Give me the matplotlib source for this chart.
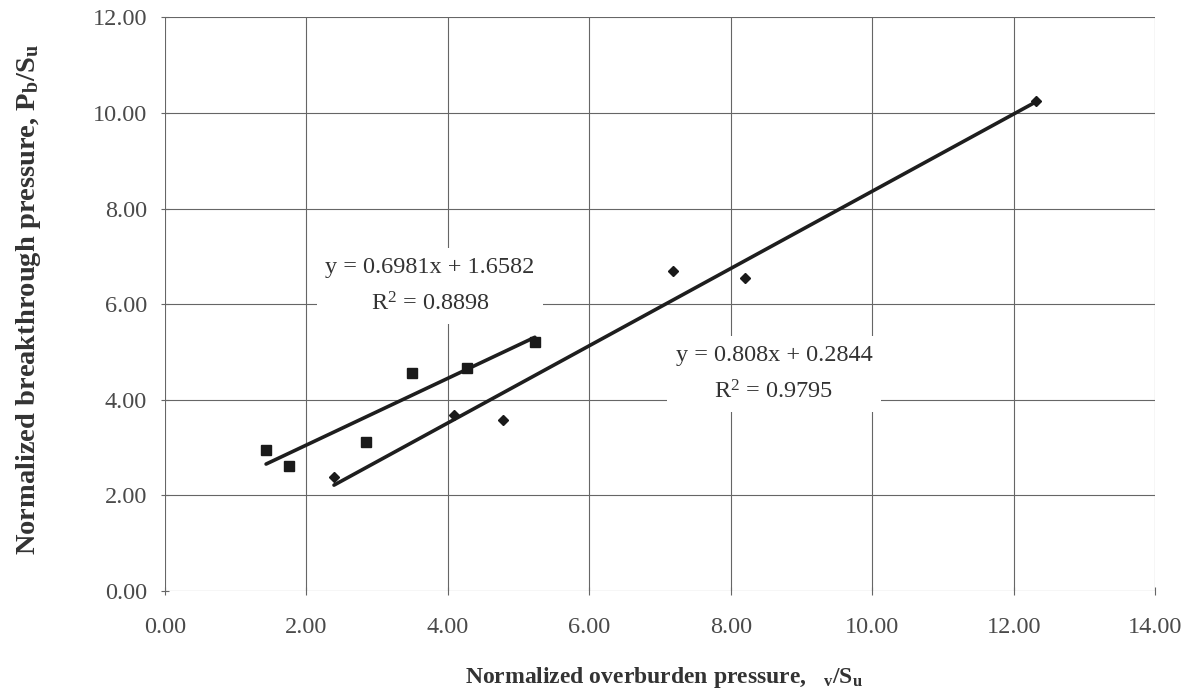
import numpy as np
import matplotlib
matplotlib.use("Agg")
import matplotlib.pyplot as plt

# Normalized overburden (x) and breakthrough (y) pressures
sq_x = [1.43, 1.75, 2.84, 3.49, 4.27, 5.23]
sq_y = [2.95, 2.62, 3.12, 4.56, 4.67, 5.21]
dm_x = [2.39, 4.08, 4.78, 7.18, 8.20, 12.32]
dm_y = [2.38, 3.68, 3.58, 6.69, 6.55, 10.26]

# Linear trend-line coefficients (slope, intercept, R^2)
sq_fit = (0.6981, 1.6582, 0.8898)
dm_fit = (0.808, 0.2844, 0.9795)

x_ticks = [0, 2, 4, 6, 8, 10, 12, 14]
y_ticks = [0, 2, 4, 6, 8, 10, 12]

plt.rcParams['font.family'] = ['Liberation Serif', 'DejaVu Serif']
plt.rcParams['mathtext.fontset'] = 'custom'
plt.rcParams['mathtext.rm'] = 'Liberation Serif'
plt.rcParams['mathtext.bf'] = 'Liberation Serif:bold'
plt.rcParams['mathtext.default'] = 'regular'

text_c = '#333333'
tick_c = '#4a4a4a'
grid_c = '#666666'

fig = plt.figure(figsize=(11.85, 6.94), dpi=100)
ax = fig.add_axes([0.1392, 0.1484, 0.8356, 0.8264])

ax.set_xlim(0, 14)
ax.set_ylim(0, 12)
ax.set_xticks(x_ticks)
ax.set_yticks(y_ticks)
ax.set_xticklabels([f"{v:.2f}" for v in x_ticks])
ax.set_yticklabels([f"{v:.2f}" for v in y_ticks])
ax.grid(True, color=grid_c, lw=0.8, zorder=0)
ax.set_axisbelow(True)
for s in ax.spines.values():
    s.set_visible(False)
ax.tick_params(axis='both', direction='inout', length=6, width=0.8,
               color=grid_c, labelsize=17.5, labelcolor=tick_c)
ax.tick_params(axis='x', pad=16)
ax.tick_params(axis='y', pad=10)

# trend lines over each series' x-range
for xs, (m, b, _) in ((sq_x, sq_fit), (dm_x, dm_fit)):
    xl = np.array([min(xs), max(xs)])
    ax.plot(xl, m * xl + b, color='#1e1e1e', lw=2.6, solid_capstyle='round', zorder=3)

ax.plot(sq_x, sq_y, 's', color='#1a1a1a', ms=7.5, zorder=4, clip_on=False)
ax.plot(dm_x, dm_y, 'D', color='#1a1a1a', ms=5.5, zorder=4, clip_on=False)

box = dict(facecolor='white', edgecolor='none', pad=6)
ax.text(3.75, 6.38, f"y = {sq_fit[0]}x + {sq_fit[1]}\nR$^2$ = {sq_fit[2]}",
        ha='center', va='center', fontsize=17.5, color=text_c,
        linespacing=1.8, bbox=box, zorder=2)
ax.text(8.61, 4.54, f"y = {dm_fit[0]}x + {dm_fit[1]}\nR$^2$ = {dm_fit[2]}",
        ha='center', va='center', fontsize=17.5, color=text_c,
        linespacing=1.8, bbox=box, zorder=2)

fig.text(0.560, 0.024, "Normalized overburden pressure,   $_v$/S$_u$",
         ha='center', va='center', fontsize=17, fontweight='bold', color=text_c)
fig.text(0.024, 0.200, "Normalized breakthrough pressure, P$_b$/S$_u$",
         ha='center', va='bottom', rotation=90, fontsize=20.5,
         fontweight='bold', color=text_c)

fig.savefig("out.png", dpi=100, facecolor='white')
